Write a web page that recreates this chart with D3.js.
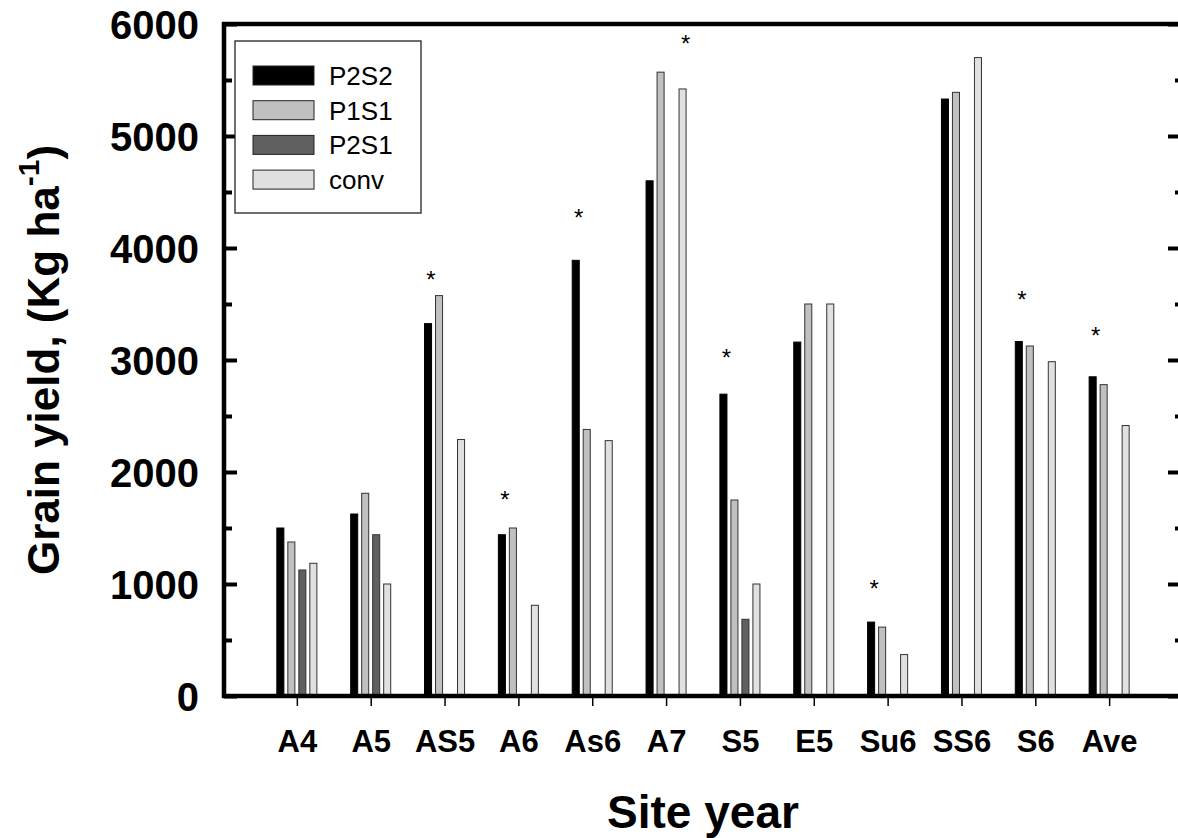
<!DOCTYPE html>
<html>
<head>
<meta charset="utf-8">
<script src="https://cdn.jsdelivr.net/npm/d3@7"></script>
<style>
  body { margin: 0; background: #fff; }
  svg { display: block; font-family: "Liberation Sans", Arial, sans-serif; }
</style>
</head>
<body>
<div id="chart"></div>
<script>
// data
const sites = ["A4", "A5", "AS5", "A6", "As6", "A7", "S5", "E5", "Su6", "SS6", "S6", "Ave"];
const seriesNames = ["P2S2", "P1S1", "P2S1", "conv"];
const p2s2 = [1500, 1625, 3325, 1440, 3890, 4600, 2695, 3160, 660, 5330, 3165, 2850];
const p1s1 = [1375, 1810, 3575, 1500, 2380, 5570, 1750, 3500, 615, 5390, 3125, 2780];
const p2s1 = [1125, 1440, null, null, null, null, 685, null, null, null, null, null];
const conv = [1185, 1000, 2290, 810, 2280, 5420, 1000, 3500, 370, 5700, 2985, 2415];

// significance marks (site, bar it sits over, level in kg/ha)
const starSites = ["AS5", "A6", "As6", "A7", "S5", "Su6", "S6", "Ave"];
const starSeries = ["P2S2", "P2S2", "P2S2", "conv", "P2S2", "P2S2", "P2S2", "P2S2"];
const starLevel = [3770, 1800, 4320, 5875, 3070, 1010, 3590, 3270];

const yMajor = [0, 1000, 2000, 3000, 4000, 5000, 6000];
const yMinor = [500, 1500, 2500, 3500, 4500, 5500];

const colors = {P2S2: "#000000", P1S1: "#c0c0c0", P2S1: "#606060", conv: "#e0e0e0"};

const width = 1178, height = 838;
const svg = d3.select("#chart").append("svg").attr("width", width).attr("height", height);

// scales
const x = d3.scaleLinear().domain([0, sites.length + 1]).range([223, 1183]);
const inner = d3.scaleBand().domain(seriesNames).range([-22, 22]).paddingInner(0.36).paddingOuter(0.18);
const y = d3.scaleLinear().domain([0, 6000]).range([696, 24]);

const valuesBySeries = {P2S2: p2s2, P1S1: p1s1, P2S1: p2s1, conv: conv};
let bars = [];
seriesNames.forEach(s => {
    valuesBySeries[s].forEach((v, i) => {
        if (v != null) bars.push({series: s, i: i, value: v});
    });
});

// bars
svg.append("g").selectAll("rect").data(bars).enter().append("rect")
    .attr("x", d => x(d.i + 1) + inner(d.series))
    .attr("y", d => y(d.value))
    .attr("width", inner.bandwidth())
    .attr("height", d => y(0) - y(d.value))
    .attr("fill", d => colors[d.series])
    .attr("stroke", d => d.series === "P2S2" ? "#000" : "#333")
    .attr("stroke-width", 1);

// asterisks
svg.append("g").selectAll("text").data(starSites).enter().append("text")
    .attr("x", (d, k) => x(sites.indexOf(d) + 1) + inner(starSeries[k]) + inner.bandwidth() / 2 + 3)
    .attr("y", (d, k) => y(starLevel[k]) + 14)
    .attr("text-anchor", "middle")
    .style("font-size", "24px")
    .text("*");

// left axis, ticks inward
svg.append("g").attr("transform", "translate(224,0)")
    .call(d3.axisLeft(y).tickValues(yMinor).tickSize(-8).tickFormat(""));
const leftMajor = svg.append("g").attr("transform", "translate(224,0)")
    .call(d3.axisLeft(y).tickValues(yMajor).tickSize(-13).tickPadding(25).tickFormat(d3.format("d")));
leftMajor.selectAll("text").style("font-size", "40px").style("font-weight", "bold").attr("dy", "0.36em");

// right axis (spine sits just off the canvas)
svg.append("g").attr("transform", "translate(1183,0)")
    .call(d3.axisLeft(y).tickValues(yMajor).tickSize(15).tickFormat(""));
svg.append("g").attr("transform", "translate(1183,0)")
    .call(d3.axisLeft(y).tickValues(yMinor).tickSize(8).tickFormat(""));

svg.selectAll(".tick line").attr("stroke", "#000").attr("stroke-width", 4);
svg.selectAll(".domain").remove();

// bottom axis
const bottom = svg.append("g").attr("transform", "translate(0,698)")
    .call(d3.axisBottom(x).tickValues(d3.range(1, sites.length + 1)).tickSize(8).tickFormat(i => sites[i - 1]));
bottom.select(".domain").remove();
bottom.selectAll(".tick line").attr("stroke", "#000").attr("stroke-width", 1.5);
bottom.selectAll("text").attr("y", 54).attr("dy", 0)
    .style("font-size", "31px").style("font-weight", "bold");

// frame lines
svg.append("line").attr("x1", 222).attr("x2", 1183).attr("y1", y(0)).attr("y2", y(0))
    .attr("stroke", "#000").attr("stroke-width", 4.5);
svg.append("line").attr("x1", 222).attr("x2", 1183).attr("y1", y(6000)).attr("y2", y(6000))
    .attr("stroke", "#000").attr("stroke-width", 4.5);
svg.append("line").attr("x1", 224).attr("x2", 224).attr("y1", y(6000) - 2).attr("y2", y(0) + 2)
    .attr("stroke", "#000").attr("stroke-width", 4.5);

// axis titles
svg.append("text").attr("x", 703).attr("y", 828).attr("text-anchor", "middle")
    .style("font-size", "46px").style("font-weight", "bold").text("Site year");

const yTitle = svg.append("text").attr("transform", "translate(59,575) rotate(-90)")
    .style("font-size", "44px").style("font-weight", "bold");
yTitle.append("tspan").text("Grain yield, (Kg ha");
yTitle.append("tspan").attr("dy", -20).style("font-size", "30px").text("-1");
yTitle.append("tspan").attr("dy", 20).text(")");

// legend
const legend = svg.append("g");
legend.append("rect").attr("x", 235).attr("y", 41).attr("width", 186).attr("height", 172)
    .attr("fill", "#fff").attr("stroke", "#222").attr("stroke-width", 1.3);
const rows = legend.selectAll("g.row").data(seriesNames).enter().append("g").attr("class", "row");
rows.append("rect")
    .attr("x", 253).attr("y", (d, i) => 66 + i * 34.7)
    .attr("width", 61).attr("height", 19)
    .attr("fill", d => colors[d]).attr("stroke", "#222").attr("stroke-width", 1);
rows.append("text")
    .attr("x", 329).attr("y", (d, i) => 85 + i * 34.7)
    .style("font-size", "26px").text(d => d);
</script>
</body>
</html>
